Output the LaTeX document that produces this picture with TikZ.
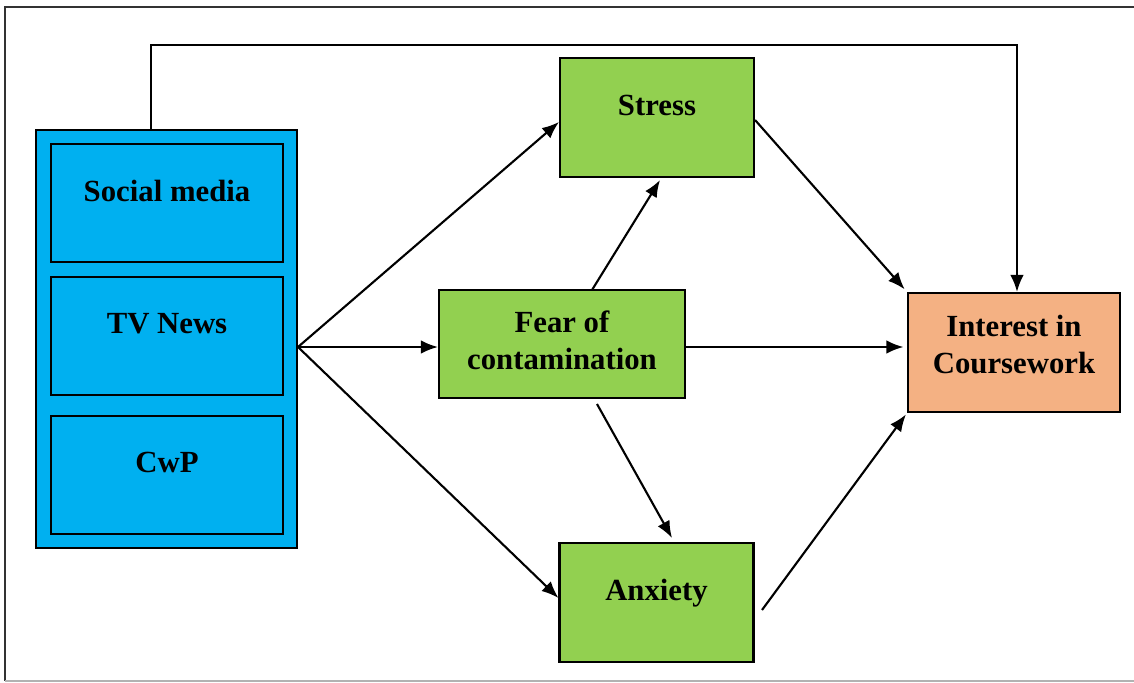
\documentclass[tikz,border=0pt]{standalone}
\usepackage{fontspec}
\setmainfont{Liberation Serif}
\usetikzlibrary{arrows.meta}
\definecolor{mediablue}{HTML}{00B0F0}
\definecolor{stategreen}{HTML}{92D050}
\definecolor{interestorange}{HTML}{F4B183}
\tikzset{
	box/.style={draw=black,line width=1.2pt,align=center,inner sep=0pt,
		font=\fontsize{17.5}{21}\selectfont\bfseries},
	lifted/.style={text depth=#1},
	media/.style={box,lifted=0.5cm,fill=mediablue,minimum width=4.64cm,minimum height=2.36cm},
	state/.style={box,lifted=0.5cm,fill=stategreen,minimum width=3.88cm,minimum height=2.38cm},
	arr/.style={-{Latex[length=3.4mm,width=2.7mm]},line width=1.2pt}
}
\begin{document}
\begin{tikzpicture}[x=0.02cm,y=-0.02cm]
	\useasboundingbox (0,0) rectangle (1134,683);
	%Outer frame
	\draw[line width=1pt,black!80] (1134,7) -- (5,7) -- (5,681);
	\draw[line width=0.8pt,black!30] (5,681) -- (1134,681);
	%Media sources
	\node [box,fill=mediablue,minimum width=5.22cm,minimum height=8.36cm] (sources) at (166.5,339) {};
	\node [media] (social) at (167,203) {Social media};
	\node [media] (tv) at (167,336) {TV News};
	\node [media] (cwp) at (167,475) {CwP};
	%Mediators
	\node [state] (stress) at (657,117.5) {Stress};
	\node [state,lifted=0.14cm,minimum width=4.92cm,minimum height=2.16cm] (fear) at (562,344) {Fear of\\contamination};
	\node [state] (anxiety) at (656.5,602.5) {Anxiety};
	%Outcome
	\node [box,lifted=0.33cm,fill=interestorange,minimum width=4.24cm,minimum height=2.38cm] (interest) at (1014,352.5) {Interest in\\Coursework};
	%Hub on the right side of the sources
	\coordinate (hub) at (298,347);
	\draw[arr] (hub) -- ([yshift=-0.09cm]stress.west);
	\draw[arr] (hub) -- (hub -| fear.west);
	\draw[arr] (hub) -- ([yshift=0.09cm]anxiety.west);
	%Fear to stress and anxiety
	\coordinate (fearup) at (592,290);
	\coordinate (feardown) at (597,404);
	\draw[arr] (fearup) -- ([xshift=0.06cm,yshift=-0.04cm]stress.south);
	\draw[arr] (feardown) -- (672,538);
	%Into the outcome
	\draw[arr,shorten >=2pt] (fear.east |- hub) -- (hub -| interest.west);
	\draw[arr,shorten >=2pt] ([yshift=-0.05cm]stress.east) -- (interest.north west);
	\draw[arr,shorten >=1pt] (762,610) -- (interest.south west);
	%Direct path over the top
	\coordinate (toprun) at (151,45);
	\draw[arr] (sources.north -| toprun) -- (toprun) -- (1017,45) -- (interest.north -| 1017,0);
\end{tikzpicture}
\end{document}
